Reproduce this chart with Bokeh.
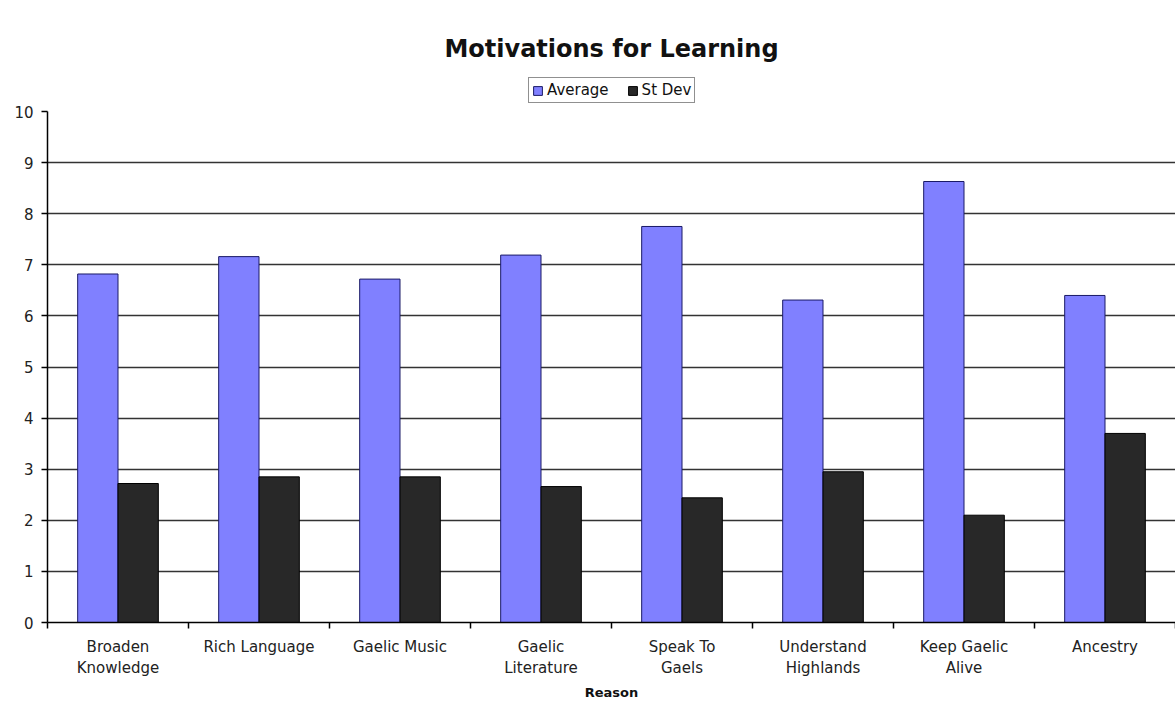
from bokeh.plotting import figure
from bokeh.layouts import column
from bokeh.models import Range1d, FixedTicker, Legend, LegendItem, ColumnDataSource
from bokeh.embed import file_html
from bokeh.resources import INLINE

categories = ["Broaden\nKnowledge", "Rich Language", "Gaelic Music", "Gaelic\nLiterature",
              "Speak To\nGaels", "Understand\nHighlands", "Keep Gaelic\nAlive", "Ancestry"]
average = [6.82, 7.16, 6.72, 7.19, 7.75, 6.31, 8.63, 6.40]
st_dev = [2.72, 2.85, 2.85, 2.66, 2.44, 2.95, 2.10, 3.70]
y_ticks = [0, 1, 2, 3, 4, 5, 6, 7, 8, 9, 10]

FONT = "DejaVu Sans"
AVG_FILL, AVG_LINE = "#8080FF", "#1a1a66"
SD_FILL, SD_LINE = "#282828", "#000000"
n = len(categories)
centers = [i + 0.5 for i in range(n)]
bar_w = 0.286
src = ColumnDataSource(dict(
    x_avg=[c - bar_w / 2 for c in centers],
    x_sd=[c + bar_w / 2 for c in centers],
    avg=average, sd=st_dev,
))

# ---------- header: title + legend ----------
header = figure(width=1175, height=104, output_backend="svg", toolbar_location=None,
                x_range=Range1d(0, n), y_range=Range1d(0, 10),
                x_axis_location=None, y_axis_location=None,
                min_border_left=0, min_border_right=0, min_border_top=66, min_border_bottom=0,
                title="Motivations for Learning")
header.outline_line_color = None
header.grid.visible = False
header.title.align = "center"
header.title.offset = -23
header.title.text_font = FONT
header.title.text_font_size = "24px"
header.title.text_font_style = "bold"
header.title.text_color = "#111111"
header.title.standoff = 8

h1 = header.vbar(x="x_avg", top="avg", width=bar_w, source=src,
                 fill_color=AVG_FILL, line_color=AVG_LINE, line_width=1, visible=False)
h2 = header.vbar(x="x_sd", top="sd", width=bar_w, source=src,
                 fill_color=SD_FILL, line_color=SD_LINE, line_width=1, visible=False)

legend = Legend(items=[LegendItem(label="Average", renderers=[h1]),
                       LegendItem(label="St Dev", renderers=[h2])],
                orientation="horizontal", location=(481, 1))
legend.label_text_font = FONT
legend.label_text_font_size = "15px"
legend.label_text_color = "#111111"
legend.glyph_width = 11
legend.glyph_height = 11
legend.label_standoff = 4
legend.spacing = 18
legend.padding = 3
legend.margin = 0
legend.border_line_color = "#222222"
legend.border_line_width = 1.5
legend.label_height = 15
legend.background_fill_color = "white"
legend.inactive_fill_alpha = 0
header.add_layout(legend, "center")

# ---------- main chart ----------
p = figure(frame_width=1128, frame_height=511, output_backend="svg", toolbar_location=None,
           x_range=Range1d(0, n), y_range=Range1d(0, 10),
           min_border_left=47, min_border_right=0, min_border_top=7, min_border_bottom=82)
p.outline_line_color = None
p.background_fill_color = "white"
p.border_fill_color = "white"

p.vbar(x="x_avg", top="avg", width=bar_w, source=src,
       fill_color=AVG_FILL, line_color=AVG_LINE, line_width=1)
p.vbar(x="x_sd", top="sd", width=bar_w, source=src,
       fill_color=SD_FILL, line_color=SD_LINE, line_width=1)

xa = p.xaxis[0]
xa.ticker = FixedTicker(ticks=centers, minor_ticks=list(range(0, n + 1)))
xa.major_label_overrides = {c: lab for c, lab in zip(centers, categories)}
xa.major_tick_line_color = None
xa.minor_tick_in = 0
xa.minor_tick_out = 6
xa.minor_tick_line_color = "black"
xa.minor_tick_line_width = 1.5
xa.axis_line_color = "black"
xa.axis_line_width = 1.5
xa.major_label_text_font = FONT
xa.major_label_text_font_size = "15px"
xa.major_label_text_color = "#222222"
xa.major_label_standoff = 9
xa.axis_label = "Reason"
xa.axis_label_text_font = FONT
xa.axis_label_text_font_size = "13px"
xa.axis_label_text_font_style = "bold"
xa.axis_label_text_color = "#111111"
xa.axis_label_standoff = 5

ya = p.yaxis[0]
ya.ticker = FixedTicker(ticks=y_ticks)
ya.minor_tick_line_color = None
ya.major_tick_in = 0
ya.major_tick_out = 6
ya.major_tick_line_width = 1.5
ya.major_tick_line_color = "black"
ya.axis_line_color = "black"
ya.axis_line_width = 1.5
ya.major_label_text_font = FONT
ya.major_label_text_font_size = "15px"
ya.major_label_text_color = "#222222"
ya.major_label_standoff = 8

p.xgrid.grid_line_color = None
p.ygrid.grid_line_color = "#333333"
p.ygrid.grid_line_width = 1.5
p.ygrid.ticker = FixedTicker(ticks=y_ticks)

layout = column(header, p, spacing=0)
open("out.html", "w").write(file_html(layout, INLINE))
